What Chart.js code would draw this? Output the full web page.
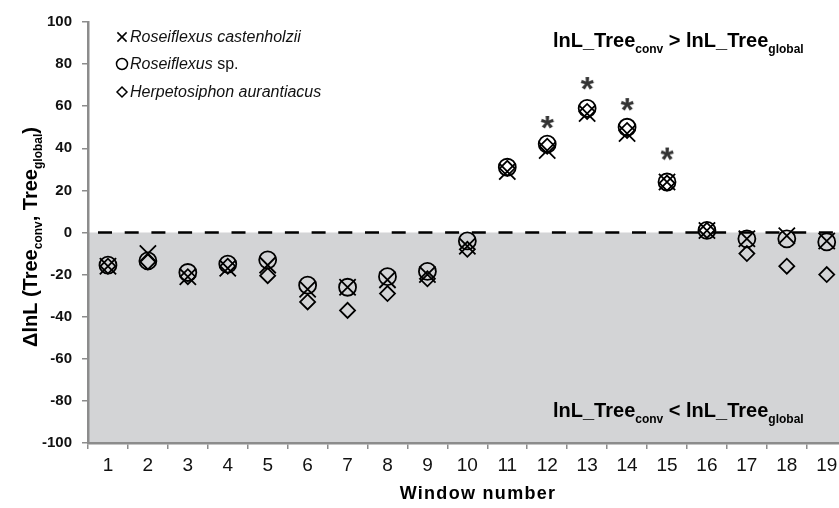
<!DOCTYPE html>
<html>
<head>
<meta charset="utf-8">
<script src="https://cdn.jsdelivr.net/npm/chart.js@4.4.1/dist/chart.umd.min.js"></script>
<style>
  html, body { margin: 0; padding: 0; background: #fff; overflow: hidden; }
  #wrap { width: 860px; height: 508px; }
</style>
</head>
<body>
<div id="wrap"><canvas id="chart"></canvas></div>
<script>
// ==================== DATOS ====================
const ventanas = ['1','2','3','4','5','6','7','8','9','10','11','12','13','14','15','16','17','18','19'];

// Roseiflexus castenholzii (x)
const castenholzii = [-16, -10, -21, -17, -15.5, -27, -26, -22.5, -20, -6.5, 29, 39, 56.5, 47, 24, 1, -3, -1.5, -4];
// Roseiflexus sp. (o)
const roseiflexusSp = [-15.5, -13.5, -19, -15, -13, -25, -26, -21, -18.5, -4, 31, 42, 59, 50, 24, 1, -3, -3, -4.5];
// Herpetosiphon aurantiacus (diamante)
const herpetosiphon = [-16, -14, -21, -16, -20.5, -33, -37, -29, -22, -8, 30.5, 41, 57.5, 48.5, 23.5, 1, -10, -16, -20];
// asteriscos de significancia
const asteriscos = [null, null, null, null, null, null, null, null, null, null, null, 52.5, 71, 61, 37.5, null, null, null, null];

const yTicks = [-100, -80, -60, -40, -20, 0, 20, 40, 60, 80, 100];

const FUENTE = 'Arial, "Liberation Sans", sans-serif';

// ── marcador asterisco como imagen ──────────────────────────
function crearAsterisco() {
    const c = document.createElement('canvas');
    c.width = 30; c.height = 30;
    const g = c.getContext('2d');
    g.font = 'bold 34px ' + FUENTE;
    g.fillStyle = '#333';
    g.textAlign = 'center';
    g.textBaseline = 'alphabetic';
    const m = g.measureText('*');
    const base = 15 + (m.actualBoundingBoxAscent - m.actualBoundingBoxDescent) / 2;
    g.fillText('*', 15, base);
    return c;
}

// ── texto con subíndices ────────────────────────────────────
function textoConSub(ctx, x, y, partes, tam, tamSub, bajada) {
    let cx = x;
    partes.forEach(p => {
        ctx.font = 'bold ' + (p.sub ? tamSub : tam) + 'px ' + FUENTE;
        ctx.fillText(p.t, cx, p.sub ? y + bajada : y);
        cx += ctx.measureText(p.t).width;
    });
    return cx - x;
}

function anchoConSub(ctx, partes, tam, tamSub) {
    let w = 0;
    partes.forEach(p => {
        ctx.font = 'bold ' + (p.sub ? tamSub : tam) + 'px ' + FUENTE;
        w += ctx.measureText(p.t).width;
    });
    return w;
}

// ── plugin: zona gris y línea discontinua ───────────────────
const zonaGris = {
    id: 'zonaGris',
    beforeDraw(chart) {
        const { ctx, chartArea: a, scales: { y } } = chart;
        const y0 = y.getPixelForValue(0);
        ctx.save();
        ctx.fillStyle = '#d3d4d6';
        ctx.fillRect(a.left, y0, a.right - a.left, a.bottom - y0);
        ctx.restore();
    },
    beforeDatasetsDraw(chart) {
        const { ctx, chartArea: a, scales: { y } } = chart;
        const y0 = y.getPixelForValue(0);
        ctx.save();
        ctx.strokeStyle = '#000';
        ctx.lineWidth = 2.5;
        ctx.setLineDash([14, 12.7]);
        ctx.lineDashOffset = 17.7;
        ctx.beginPath();
        ctx.moveTo(a.left + 1, y0);
        ctx.lineTo(a.right, y0);
        ctx.stroke();
        ctx.restore();
    }
};

// ── plugin: leyenda, títulos y anotaciones ──────────────────
const textos = {
    id: 'textos',
    afterDraw(chart) {
        const { ctx, chartArea: a } = chart;
        ctx.save();
        ctx.fillStyle = '#000';
        ctx.textBaseline = 'alphabetic';
        ctx.textAlign = 'left';

        // anotaciones
        const arriba = [{t:'lnL_Tree'}, {t:'conv', sub:true}, {t:' > lnL_Tree'}, {t:'global', sub:true}];
        const abajo  = [{t:'lnL_Tree'}, {t:'conv', sub:true}, {t:' < lnL_Tree'}, {t:'global', sub:true}];
        textoConSub(ctx, 553, 47, arriba, 20, 12, 6);
        textoConSub(ctx, 553, 417, abajo, 20, 12, 6);

        // título eje Y (rotado)
        const tituloY = [{t:'\u0394lnL (Tree'}, {t:'conv', sub:true}, {t:', Tree'}, {t:'global', sub:true}, {t:')'}];
        const w = anchoConSub(ctx, tituloY, 20, 12);
        ctx.save();
        ctx.translate(37, 237);
        ctx.rotate(-Math.PI / 2);
        textoConSub(ctx, -w / 2, 0, tituloY, 20, 12, 5);
        ctx.restore();

        // título eje X
        ctx.font = 'bold 18px ' + FUENTE;
        ctx.letterSpacing = '1.3px';
        ctx.textAlign = 'center';
        ctx.textBaseline = 'middle';
        ctx.fillText('Window number', 478, 494);
        ctx.letterSpacing = '0px';

        // leyenda
        const items = [
            { estilo: 'crossRot', r: 6.5, partes: [{t:'Roseiflexus castenholzii', it:true}] },
            { estilo: 'circle',   r: 5.5, partes: [{t:'Roseiflexus', it:true}, {t:' sp.', it:false}] },
            { estilo: 'rectRot',  r: 5,   partes: [{t:'Herpetosiphon aurantiacus', it:true}] }
        ];
        const filas = [37, 64, 92];
        ctx.textAlign = 'left';
        items.forEach((it, i) => {
            ctx.strokeStyle = '#000';
            ctx.fillStyle = 'rgba(0,0,0,0)';
            ctx.lineWidth = 1.5;
            Chart.helpers.drawPoint(ctx, { pointStyle: it.estilo, radius: it.r, borderWidth: 1.5, rotation: 0 }, 122, filas[i]);
            ctx.fillStyle = '#111';
            let x = 130;
            it.partes.forEach(p => {
                ctx.font = (p.it ? 'italic ' : '') + '16px ' + FUENTE;
                ctx.fillText(p.t, x, filas[i] + 1);
                x += ctx.measureText(p.t).width;
            });
        });
        ctx.restore();
    }
};

// ==================== GRÁFICO ====================
const ctx = document.getElementById('chart');

new Chart(ctx, {
    type: 'line',
    data: {
        labels: ventanas,
        datasets: [
            {
                label: 'Roseiflexus sp.',
                data: roseiflexusSp,
                showLine: false,
                pointStyle: 'circle',
                pointRadius: 8.5,
                pointBorderWidth: 1.8,
                pointBorderColor: '#000',
                pointBackgroundColor: 'rgba(0,0,0,0)',
            },
            {
                label: 'Roseiflexus castenholzii',
                data: castenholzii,
                showLine: false,
                pointStyle: 'crossRot',
                pointRadius: 11.5,
                pointBorderWidth: 1.8,
                pointBorderColor: '#000',
                pointBackgroundColor: 'rgba(0,0,0,0)',
            },
            {
                label: 'Herpetosiphon aurantiacus',
                data: herpetosiphon,
                showLine: false,
                pointStyle: 'rectRot',
                pointRadius: 7.5,
                pointBorderWidth: 1.8,
                pointBorderColor: '#000',
                pointBackgroundColor: 'rgba(0,0,0,0)',
            },
            {
                label: 'significancia',
                data: asteriscos,
                showLine: false,
                pointStyle: crearAsterisco(),
                pointRadius: 10,
            }
        ]
    },
    options: {
        responsive: true,
        maintainAspectRatio: false,
        animation: false,
        events: [],
        layout: { padding: { top: 22, right: 12, bottom: 0, left: 0 } },
        plugins: {
            legend: { display: false },
            tooltip: { enabled: false }
        },
        scales: {
            x: {
                type: 'category',
                offset: true,
                afterFit: s => { s.height = 65; },
                grid: {
                    display: true,
                    offset: true,
                    drawOnChartArea: false,
                    drawTicks: true,
                    tickLength: 6,
                    color: '#8c8c8c',
                    lineWidth: 1.5
                },
                border: { display: true, color: '#8c8c8c', width: 2.5 },
                ticks: {
                    autoSkip: false,
                    maxRotation: 0,
                    padding: 5,
                    color: '#111',
                    font: { family: FUENTE, size: 19 }
                }
            },
            y: {
                type: 'linear',
                min: -100,
                max: 100,
                afterFit: s => { s.width = 88; },
                afterBuildTicks: s => { s.ticks = yTicks.map(v => ({ value: v })); },
                grid: {
                    display: true,
                    drawOnChartArea: false,
                    drawTicks: true,
                    tickLength: 6,
                    color: '#8c8c8c',
                    lineWidth: 1.5
                },
                border: { display: true, color: '#8c8c8c', width: 2.5 },
                ticks: {
                    padding: 10,
                    color: '#111',
                    font: { family: FUENTE, size: 15, weight: 'bold' }
                }
            }
        }
    },
    plugins: [zonaGris, textos]
});
</script>
</body>
</html>
